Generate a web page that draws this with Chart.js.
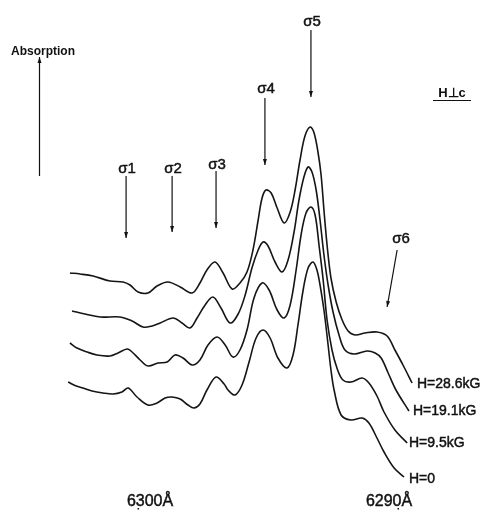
<!DOCTYPE html>
<html>
<head>
<meta charset="utf-8">
<script src="https://cdn.jsdelivr.net/npm/chart.js@4"></script>
<style>
  html, body { margin: 0; padding: 0; background: #fff; }
  #wrap { width: 488px; height: 510px; }
</style>
</head>
<body>
<div id="wrap"><canvas id="spectrumChart" width="488" height="510"></canvas></div>
<script>
// wavelength (Å) and absorption (arb. units, curves offset) for each field
const wavelength286 = [6302.62, 6302.23, 6301.73, 6301.08, 6300.58, 6300.31, 6300.00, 6299.62, 6299.27, 6298.85, 6298.38, 6297.92, 6297.62, 6297.35, 6297.04, 6296.73, 6296.38, 6296.08, 6295.81, 6295.58, 6295.38, 6295.23, 6295.08, 6294.88, 6294.65, 6294.38, 6294.15, 6293.96, 6293.77, 6293.58, 6293.38, 6293.23, 6293.08, 6292.96, 6292.85, 6292.73, 6292.58, 6292.38, 6292.15, 6291.92, 6291.65, 6291.27, 6290.81, 6290.42, 6290.12, 6289.81, 6289.46];
const absorption286 = [2.37, 2.36, 2.34, 2.29, 2.28, 2.25, 2.18, 2.17, 2.24, 2.28, 2.23, 2.17, 2.27, 2.40, 2.48, 2.37, 2.21, 2.27, 2.38, 2.60, 2.90, 3.12, 3.20, 3.17, 3.02, 2.87, 2.98, 3.20, 3.50, 3.74, 3.83, 3.77, 3.58, 3.35, 3.00, 2.65, 2.32, 2.08, 1.90, 1.79, 1.75, 1.77, 1.78, 1.74, 1.60, 1.45, 1.27];

const wavelength191 = [6302.54, 6302.04, 6301.46, 6300.69, 6300.23, 6299.81, 6299.46, 6299.15, 6298.65, 6298.31, 6298.00, 6297.73, 6297.42, 6297.12, 6296.81, 6296.46, 6296.15, 6295.88, 6295.62, 6295.38, 6295.19, 6295.00, 6294.73, 6294.46, 6294.23, 6294.00, 6293.81, 6293.62, 6293.46, 6293.31, 6293.15, 6293.00, 6292.85, 6292.69, 6292.50, 6292.27, 6292.04, 6291.69, 6291.19, 6290.88, 6290.65, 6290.38, 6290.08, 6289.58];
const absorption191 = [1.99, 1.96, 1.93, 1.93, 1.89, 1.83, 1.84, 1.87, 1.92, 1.87, 1.82, 1.92, 2.05, 2.13, 2.02, 1.87, 1.96, 2.15, 2.42, 2.60, 2.68, 2.64, 2.48, 2.38, 2.50, 2.78, 3.10, 3.33, 3.43, 3.38, 3.20, 2.90, 2.55, 2.25, 1.98, 1.75, 1.60, 1.56, 1.59, 1.57, 1.52, 1.37, 1.20, 0.99];

const wavelength95 = [6302.62, 6302.35, 6301.96, 6301.58, 6301.08, 6300.77, 6300.42, 6300.23, 6299.92, 6299.62, 6299.23, 6298.88, 6298.58, 6298.27, 6297.92, 6297.62, 6297.31, 6296.96, 6296.65, 6296.35, 6296.08, 6295.81, 6295.54, 6295.23, 6294.96, 6294.65, 6294.38, 6294.15, 6293.92, 6293.73, 6293.54, 6293.35, 6293.19, 6293.04, 6292.88, 6292.73, 6292.54, 6292.35, 6292.12, 6291.81, 6291.38, 6291.12, 6290.81, 6290.54, 6290.12, 6289.65];
const absorption95 = [1.67, 1.62, 1.58, 1.55, 1.54, 1.57, 1.61, 1.58, 1.50, 1.44, 1.47, 1.48, 1.55, 1.52, 1.45, 1.50, 1.65, 1.73, 1.65, 1.53, 1.60, 1.80, 2.12, 2.27, 2.20, 2.00, 1.92, 2.05, 2.40, 2.75, 2.97, 3.03, 2.95, 2.65, 2.30, 1.90, 1.60, 1.42, 1.30, 1.28, 1.32, 1.27, 1.14, 0.98, 0.80, 0.67];

const wavelength0 = [6302.69, 6302.38, 6302.12, 6301.77, 6301.35, 6300.96, 6300.62, 6300.38, 6300.04, 6299.62, 6299.27, 6298.96, 6298.69, 6298.38, 6298.08, 6297.85, 6297.62, 6297.35, 6297.00, 6296.69, 6296.54, 6296.27, 6296.00, 6295.73, 6295.46, 6295.19, 6294.92, 6294.62, 6294.27, 6294.04, 6293.85, 6293.65, 6293.46, 6293.27, 6293.12, 6293.00, 6292.85, 6292.69, 6292.58, 6292.46, 6292.19, 6291.81, 6291.38, 6291.12, 6290.81, 6290.54, 6290.15, 6289.77];
const absorption0 = [1.28, 1.24, 1.22, 1.19, 1.17, 1.16, 1.18, 1.22, 1.13, 1.05, 1.07, 1.12, 1.13, 1.11, 1.05, 1.02, 1.06, 1.20, 1.33, 1.26, 1.20, 1.15, 1.25, 1.48, 1.72, 1.80, 1.72, 1.52, 1.42, 1.55, 1.85, 2.20, 2.42, 2.48, 2.40, 2.25, 2.00, 1.65, 1.40, 1.20, 0.95, 0.90, 0.92, 0.87, 0.72, 0.58, 0.42, 0.33];

const fieldLabels = ['H=28.6kG', 'H=19.1kG', 'H=9.5kG', 'H=0'];
const sigmaLabels = ['σ1', 'σ2', 'σ3', 'σ4', 'σ5', 'σ6'];
const sigmaWavelengths = [6300.46, 6298.69, 6297.00, 6295.12, 6293.35, 6290.42];
const tickWavelengths = [6300, 6290];

function toPoints(xs, ys) {
    return xs.map((x, i) => ({ x: x, y: ys[i] }));
}

const curves = [
    toPoints(wavelength286, absorption286),
    toPoints(wavelength191, absorption191),
    toPoints(wavelength95, absorption95),
    toPoints(wavelength0, absorption0)
];

function drawArrow(ctx, x1, y1, x2, y2) {
    const ang = Math.atan2(y2 - y1, x2 - x1);
    ctx.beginPath();
    ctx.moveTo(x1, y1);
    ctx.lineTo(x2, y2);
    ctx.stroke();
    ctx.beginPath();
    ctx.moveTo(x2, y2);
    ctx.lineTo(x2 - 6 * Math.cos(ang) + 2 * Math.sin(ang), y2 - 6 * Math.sin(ang) - 2 * Math.cos(ang));
    ctx.lineTo(x2 - 6 * Math.cos(ang) - 2 * Math.sin(ang), y2 - 6 * Math.sin(ang) + 2 * Math.cos(ang));
    ctx.closePath();
    ctx.fill();
}

// slightly heavier text, like the inked lettering
function inkText(ctx, t, x, y) {
    ctx.fillText(t, x, y);
    ctx.lineWidth = 0.45;
    ctx.strokeText(t, x, y);
}

// text, arrows and wavelength marks drawn on top of the curves
const annotations = {
    id: 'annotations',
    afterDraw(chart) {
        const ctx = chart.ctx;
        const xs = chart.scales.x;
        ctx.save();
        ctx.fillStyle = '#111';
        ctx.strokeStyle = '#111';
        ctx.textAlign = 'center';
        ctx.textBaseline = 'alphabetic';

        ctx.font = 'bold 12px "Liberation Sans", Arial, sans-serif';
        ctx.fillText('Absorption', 43, 55);
        ctx.lineWidth = 1.2;
        drawArrow(ctx, 39.5, 176, 39.5, 57);

        // sigma arrows: [text baseline, arrow start, arrow end]
        const sigmaPos = [[173, 176, 238], [173, 176, 232], [169, 171, 228], [93, 98, 165], [26, 30, 97]];
        ctx.font = '15px "Liberation Sans", Arial, sans-serif';
        sigmaPos.forEach((p, i) => {
            const px = xs.getPixelForValue(sigmaWavelengths[i]);
            inkText(ctx, sigmaLabels[i], px + 1, p[0]);
            ctx.lineWidth = 1.2;
            drawArrow(ctx, px, p[1], px, p[2]);
        });
        const s6 = xs.getPixelForValue(sigmaWavelengths[5]);
        inkText(ctx, sigmaLabels[5], s6 + 14, 243);
        ctx.lineWidth = 1.2;
        drawArrow(ctx, s6 + 10, 250, s6, 307);

        ctx.font = 'bold 13px "Liberation Sans", Arial, sans-serif';
        ctx.fillText('H⊥c', 452, 97);
        ctx.lineWidth = 1.2;
        ctx.beginPath();
        ctx.moveTo(433, 100.5);
        ctx.lineTo(471, 100.5);
        ctx.stroke();

        ctx.font = '14px "Liberation Sans", Arial, sans-serif';
        ctx.textAlign = 'left';
        const labelY = [388, 415, 447, 483];
        const labelX = [417, 413, 409, 409];
        fieldLabels.forEach((t, i) => inkText(ctx, t, labelX[i], labelY[i]));

        ctx.font = '16px "Liberation Sans", Arial, sans-serif';
        ctx.textAlign = 'center';
        tickWavelengths.forEach(w => {
            const px = xs.getPixelForValue(w);
            inkText(ctx, w + 'Å', px + (w === 6300 ? 12 : -9), 506);
            ctx.fillRect(px - 0.5, 508, 1.5, 1.5);
        });
        ctx.restore();
    }
};

new Chart(document.getElementById('spectrumChart'), {
    type: 'line',
    data: {
        datasets: curves.map((pts, i) => ({
            label: fieldLabels[i],
            data: pts,
            borderColor: '#151515',
            borderWidth: 1.6,
            pointRadius: 0,
            tension: 0.35,
            fill: false
        }))
    },
    options: {
        responsive: false,
        animation: false,
        devicePixelRatio: 1,
        layout: { padding: 0 },
        plugins: { legend: { display: false }, tooltip: { enabled: false } },
        scales: {
            x: { type: 'linear', reverse: true, min: 6286.54, max: 6305.31, display: false },
            y: { type: 'linear', min: 0, max: 5.1, display: false }
        }
    },
    plugins: [annotations]
});
</script>
</body>
</html>
